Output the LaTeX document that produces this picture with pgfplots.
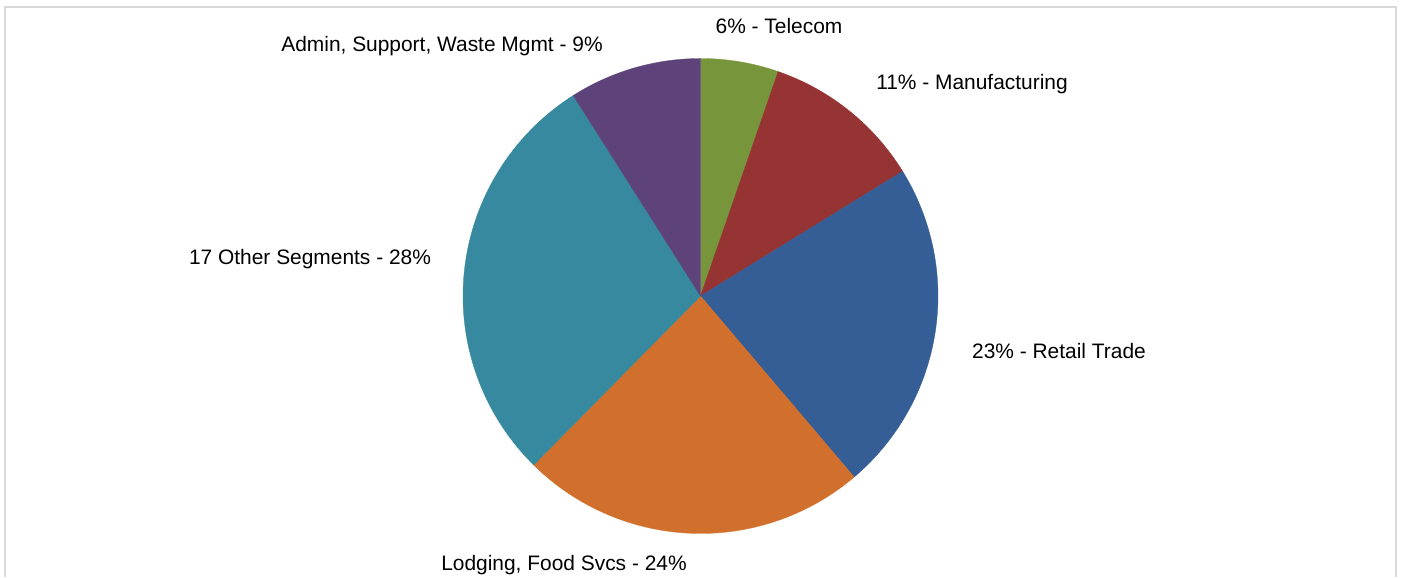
\documentclass[border=0pt]{standalone}
\usepackage{pgfplots}
\pgfplotsset{compat=1.18}
\usepackage{fontspec}
\setmainfont{Liberation Sans}
\definecolor{cTel}{RGB}{119,150,60}
\definecolor{cMan}{RGB}{150,52,51}
\definecolor{cRet}{RGB}{53,93,150}
\definecolor{cLod}{RGB}{208,112,44}
\definecolor{cOth}{RGB}{54,137,158}
\definecolor{cAdm}{RGB}{94,67,122}
\definecolor{frame}{RGB}{217,217,217}
% shares in percent (clockwise from 12 o'clock)
\def\vTel{5.3}
\def\vMan{10.9}
\def\vRet{22.6}
\def\vLod{23.6}
\def\vOth{28.6}
\def\vAdm{9.0}
\def\cx{700.5}
\def\cy{281}
\def\R{237.5}
\tikzset{lbl/.style={anchor=base, inner sep=0pt, font=\fontsize{21}{25}\selectfont}}
\begin{document}
\begin{tikzpicture}
\begin{axis}[hide axis, scale only axis, width=1401bp, height=577bp,
  xmin=0, xmax=1401, ymin=0, ymax=577, clip=false]
\path (rel axis cs:0,0) rectangle (rel axis cs:1,1);
\draw[frame, line width=1.5bp] (axis cs:5,0) -- (axis cs:5,570) -- (axis cs:1396,570) -- (axis cs:1396,0);
\addplot[fill=cTel, draw=cTel, line width=0.3bp, samples=60, domain={90-3.6*(\vTel)}:{90}]
  ({\cx+\R*cos(x)},{\cy+\R*sin(x)}) -- (axis cs:\cx,\cy) -- cycle;
\addplot[fill=cMan, draw=cMan, line width=0.3bp, samples=60, domain={90-3.6*(\vTel+\vMan)}:{90-3.6*(\vTel)}]
  ({\cx+\R*cos(x)},{\cy+\R*sin(x)}) -- (axis cs:\cx,\cy) -- cycle;
\addplot[fill=cRet, draw=cRet, line width=0.3bp, samples=80, domain={90-3.6*(\vTel+\vMan+\vRet)}:{90-3.6*(\vTel+\vMan)}]
  ({\cx+\R*cos(x)},{\cy+\R*sin(x)}) -- (axis cs:\cx,\cy) -- cycle;
\addplot[fill=cLod, draw=cLod, line width=0.3bp, samples=80, domain={90-3.6*(\vTel+\vMan+\vRet+\vLod)}:{90-3.6*(\vTel+\vMan+\vRet)}]
  ({\cx+\R*cos(x)},{\cy+\R*sin(x)}) -- (axis cs:\cx,\cy) -- cycle;
\addplot[fill=cOth, draw=cOth, line width=0.3bp, samples=80, domain={90-3.6*(\vTel+\vMan+\vRet+\vLod+\vOth)}:{90-3.6*(\vTel+\vMan+\vRet+\vLod)}]
  ({\cx+\R*cos(x)},{\cy+\R*sin(x)}) -- (axis cs:\cx,\cy) -- cycle;
\addplot[fill=cAdm, draw=cAdm, line width=0.3bp, samples=60, domain={90-3.6*(\vTel+\vMan+\vRet+\vLod+\vOth+\vAdm)}:{90-3.6*(\vTel+\vMan+\vRet+\vLod+\vOth)}]
  ({\cx+\R*cos(x)},{\cy+\R*sin(x)}) -- (axis cs:\cx,\cy) -- cycle;
\node[lbl] at (axis cs:779,543) {6\% - Telecom};
\node[lbl] at (axis cs:972,487) {11\% - Manufacturing};
\node[lbl] at (axis cs:1059,218) {23\% - Retail Trade};
\node[lbl] at (axis cs:564,6) {Lodging, Food Svcs - 24\%};
\node[lbl] at (axis cs:310,312) {17 Other Segments - 28\%};
\node[lbl] at (axis cs:442,525) {Admin, Support, Waste Mgmt - 9\%};
\end{axis}
\end{tikzpicture}
\end{document}
